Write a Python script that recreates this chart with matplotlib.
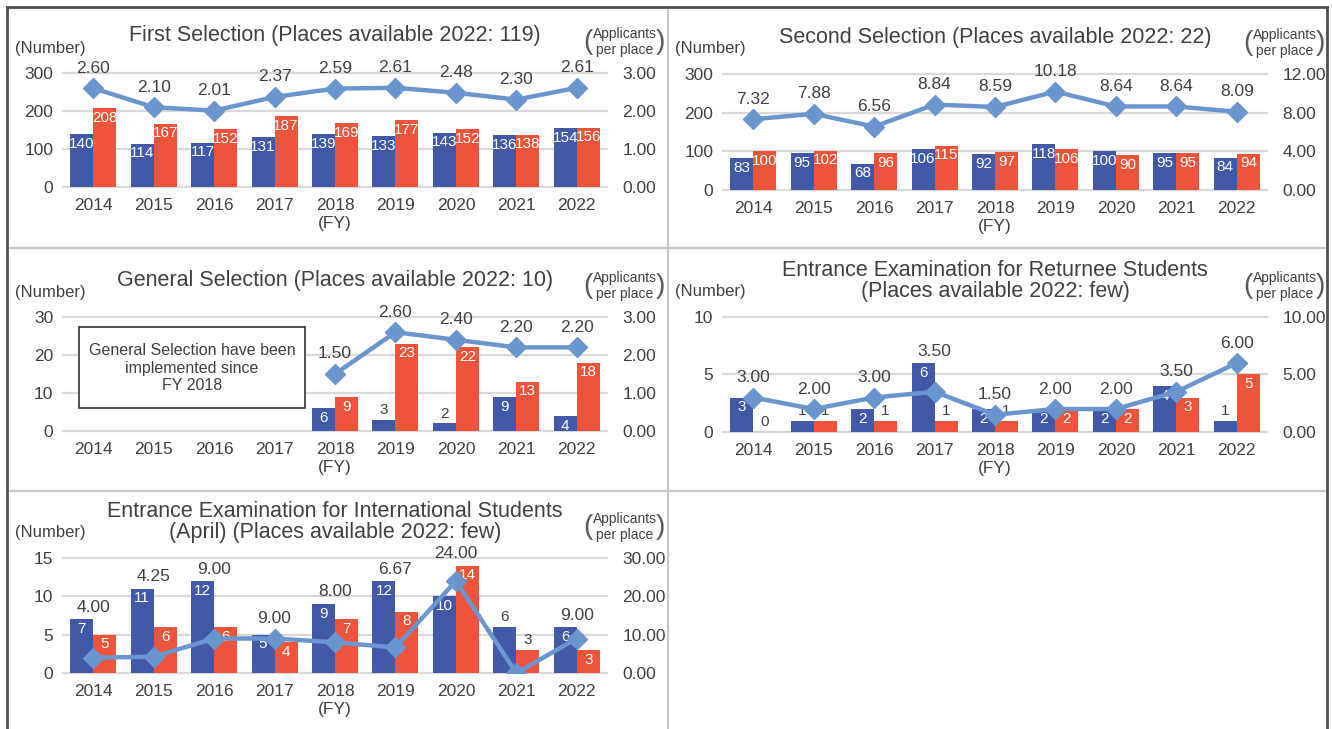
import numpy as np
import matplotlib
matplotlib.use("Agg")
import matplotlib.pyplot as plt
from matplotlib import font_manager
from matplotlib.lines import Line2D
from matplotlib.patches import Rectangle

plt.rcParams['font.family'] = ['Liberation Sans', 'DejaVu Sans']

# data
years = ['2014', '2015', '2016', '2017', '2018', '2019', '2020', '2021', '2022']
nan = np.nan

first_bar1 = [140, 114, 117, 131, 139, 133, 143, 136, 154]
first_bar2 = [208, 167, 152, 187, 169, 177, 152, 138, 156]
first_ratio = [2.60, 2.10, 2.01, 2.37, 2.59, 2.61, 2.48, 2.30, 2.61]

second_bar1 = [83, 95, 68, 106, 92, 118, 100, 95, 84]
second_bar2 = [100, 102, 96, 115, 97, 106, 90, 95, 94]
second_ratio = [7.32, 7.88, 6.56, 8.84, 8.59, 10.18, 8.64, 8.64, 8.09]

general_bar1 = [nan, nan, nan, nan, 6, 3, 2, 9, 4]
general_bar2 = [nan, nan, nan, nan, 9, 23, 22, 13, 18]
general_ratio = [nan, nan, nan, nan, 1.50, 2.60, 2.40, 2.20, 2.20]

returnee_bar1 = [3, 1, 2, 6, 2, 2, 2, 4, 1]
returnee_bar2 = [0, 1, 1, 1, 1, 2, 2, 3, 5]
returnee_ratio = [3.00, 2.00, 3.00, 3.50, 1.50, 2.00, 2.00, 3.50, 6.00]

intl_bar1 = [7, 11, 12, 5, 9, 12, 10, 6, 6]
intl_bar2 = [5, 6, 6, 4, 7, 8, 14, 3, 3]
intl_ratio = [4.00, 4.25, 9.00, 9.00, 8.00, 6.67, 24.00, 0.00, 9.00]

# colours
BLUE = '#4159A6'
RED = '#EE543A'
LINE = '#6A96D0'
GRID = '#D9D9D9'
TXT = '#404040'

W, H = 1332, 729
PT = 0.72  # points per pixel at dpi 100

# narrow font for the labels inside the bars, if there is one
try:
    font_manager.findfont('Liberation Sans Narrow', fallback_to_default=False)
    BAR_FONT = dict(family=['Liberation Sans Narrow', 'Liberation Sans'], fontsize=12.5)
except ValueError:
    BAR_FONT = dict(family=['Liberation Sans'], fontsize=11)


def rect(x0, x1, ytop, ybot):
    return [x0 / W, 1 - ybot / H, (x1 - x0) / W, (ybot - ytop) / H]


panels = [
    dict(title='First Selection (Places available 2022: 119)',
         b1=first_bar1, b2=first_bar2, r=first_ratio,
         lmax=300, lstep=100, rmax=3, rstep=1, pos=rect(63, 607, 73, 187), force=[]),
    dict(title='Second Selection (Places available 2022: 22)',
         b1=second_bar1, b2=second_bar2, r=second_ratio,
         lmax=300, lstep=100, rmax=12, rstep=4, pos=rect(723, 1267, 74, 190), force=[]),
    dict(title='General Selection (Places available 2022: 10)',
         b1=general_bar1, b2=general_bar2, r=general_ratio,
         lmax=30, lstep=10, rmax=3, rstep=1, pos=rect(63, 607, 317, 431), force=[]),
    dict(title='Entrance Examination for Returnee Students\n(Places available 2022: few)',
         b1=returnee_bar1, b2=returnee_bar2, r=returnee_ratio,
         lmax=10, lstep=5, rmax=10, rstep=5, pos=rect(723, 1267, 317, 432), force=[]),
    dict(title='Entrance Examination for International Students\n(April) (Places available 2022: few)',
         b1=intl_bar1, b2=intl_bar2, r=intl_ratio,
         lmax=15, lstep=5, rmax=30, rstep=10, pos=rect(63, 607, 558, 673), force=[7]),
]

fig = plt.figure(figsize=(W / 100, H / 100), dpi=100)


# frame lines
def fline(x0, y0, x1, y1, color, lw):
    fig.add_artist(Line2D([x0 / W, x1 / W], [1 - y0 / H, 1 - y1 / H],
                          transform=fig.transFigure, color=color, lw=lw))


fline(7, 248, 1327, 248, '#C8C8C8', 1.6)
fline(7, 491, 1327, 491, '#C8C8C8', 1.6)
fline(668, 7, 668, H, '#C8C8C8', 1.6)
fline(7, 7, 1327, 7, '#505050', 2)
fline(7, 7, 7, H, '#505050', 2)
fline(1327, 7, 1327, H, '#505050', 2)

x = np.arange(len(years))
bw = 0.38

for p in panels:
    ax = fig.add_axes(p['pos'])
    ax2 = ax.twinx()
    b1 = np.array(p['b1'], dtype=float)
    b2 = np.array(p['b2'], dtype=float)
    r = np.array(p['r'], dtype=float)

    for t in np.arange(0, p['lmax'] + 0.01, p['lstep']):
        ax.axhline(t, color=GRID, lw=1.6, zorder=0, clip_on=False)
    ax.bar(x - bw / 2, b1, bw, color=BLUE, zorder=2)
    ax.bar(x + bw / 2, b2, bw, color=RED, zorder=2)

    ax.set_xlim(-0.5, len(years) - 0.5)
    ax.set_ylim(0, p['lmax'])
    ax.set_yticks(np.arange(0, p['lmax'] + 0.01, p['lstep']))
    ax.set_xticks(x)
    ax.set_xticklabels(years)
    ax.tick_params(axis='both', length=0, labelsize=12.5, labelcolor=TXT)
    ax.tick_params(axis='y', pad=7)
    ax.tick_params(axis='x', pad=8)
    ax.set_xlabel('(FY)', fontsize=12.5, color=TXT, labelpad=2)

    ax2.plot(x, r, color=LINE, lw=3.2, marker='D', ms=10, zorder=3)
    ax2.set_ylim(0, p['rmax'])
    ax2.set_yticks(np.arange(0, p['rmax'] + 0.01, p['rstep']))
    ax2.set_yticklabels(['%.2f' % v for v in np.arange(0, p['rmax'] + 0.01, p['rstep'])])
    ax2.tick_params(axis='y', length=0, labelsize=12.5, labelcolor=TXT, pad=11)
    for a in (ax, ax2):
        for s in a.spines.values():
            s.set_visible(False)

    # bar value labels
    for vals, dx in ((b1, -bw / 2), (b2, bw / 2)):
        for i, v in enumerate(vals):
            if np.isnan(v):
                continue
            if v / p['lmax'] < 0.12 or i in p['force']:
                ax.annotate('%d' % v, (i + dx, v), xytext=(0, 2), textcoords='offset points',
                            ha='center', va='bottom', color=TXT, zorder=4, **BAR_FONT)
            else:
                ax.annotate('%d' % v, (i + dx, v), xytext=(0, -2), textcoords='offset points',
                            ha='center', va='top', color='white', zorder=4, **BAR_FONT)

    # ratio labels
    hpx = p['pos'][3] * H
    k = hpx / p['lmax']
    for i, v in enumerate(r):
        if np.isnan(v) or v == 0:
            continue
        marker_px = v / p['rmax'] * hpx
        bar_px = np.nanmax([b1[i], b2[i]]) * k
        ypx = max(marker_px + 20, bar_px + 12)
        ax2.annotate('%.2f' % v, (i, 0), xytext=(0, ypx * PT), textcoords='offset points',
                     ha='center', va='center', fontsize=12.5, color=TXT, zorder=5)

    # titles and axis captions
    nlines = p['title'].count('\n') + 1
    ax.annotate(p['title'], (0.5, 1), xycoords='axes fraction',
                xytext=(0, (37 if nlines == 1 else 36) * PT), textcoords='offset points',
                ha='center', va='center', fontsize=15.5, color=TXT, linespacing=1.05)
    ax.annotate('(Number)', (0, 1), xycoords='axes fraction', xytext=(-13 * PT, 25 * PT),
                textcoords='offset points', ha='center', va='center', fontsize=12, color=TXT)
    ax.annotate('Applicants\nper place', (1, 1), xycoords='axes fraction',
                xytext=(18 * PT, 31 * PT), textcoords='offset points',
                ha='center', va='center', fontsize=10, color=TXT, linespacing=1.1)
    ax.annotate('(', (1, 1), xycoords='axes fraction', xytext=(-19 * PT, 31 * PT),
                textcoords='offset points', ha='center', va='center', fontsize=20,
                color='#595959')
    ax.annotate(')', (1, 1), xycoords='axes fraction', xytext=(53 * PT, 31 * PT),
                textcoords='offset points', ha='center', va='center', fontsize=20,
                color='#595959')

    if p['title'].startswith('General'):
        ax.add_patch(Rectangle((0.029, 0.2), 0.416, 0.713, transform=ax.transAxes,
                               facecolor='white', edgecolor='#303030', lw=1.2, zorder=5))
        ax.text(0.237, 0.55, 'General Selection have been\nimplemented since\nFY 2018',
                transform=ax.transAxes, ha='center', va='center', fontsize=11.5,
                color=TXT, linespacing=1.2, zorder=6)

fig.savefig('out.png', dpi=100)
